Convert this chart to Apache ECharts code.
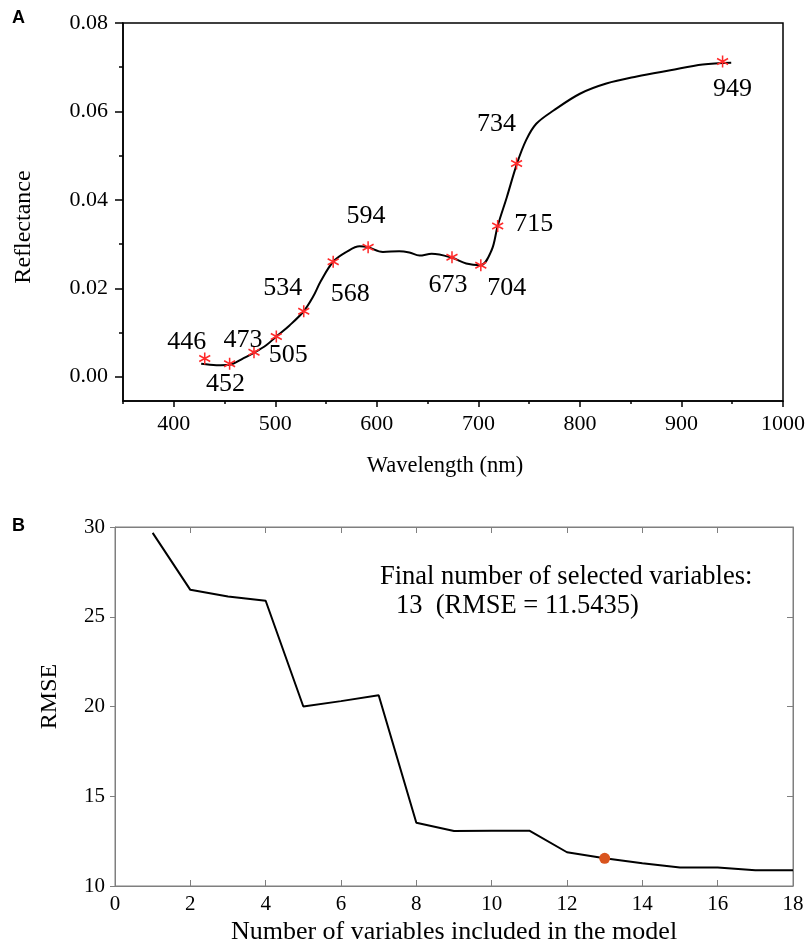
<!DOCTYPE html>
<html>
<head>
<meta charset="utf-8">
<title>Reflectance and RMSE</title>
<script src="https://cdn.jsdelivr.net/npm/echarts@6/dist/echarts.min.js"></script>
<style>
  html, body { margin: 0; padding: 0; background: #fff; }
  #chart { width: 810px; height: 946px; }
</style>
</head>
<body>
<div id="chart"></div>
<script>
// panel A: reflectance spectrum
const wavelength = [427, 442, 455, 468, 479, 491, 501, 514, 528, 537, 545, 557, 570, 583, 591, 606, 622, 632, 642, 654, 674, 688, 702, 713, 719, 728, 738, 747, 757, 774, 800, 826, 856, 889, 921, 949]
const reflectance = [0.0029, 0.0026, 0.0027, 0.0041, 0.0054, 0.0071, 0.0091, 0.0116, 0.0148, 0.0180, 0.0217, 0.0260, 0.0282, 0.0295, 0.0293, 0.0282, 0.0284, 0.0281, 0.0274, 0.0278, 0.0269, 0.0256, 0.0252, 0.0286, 0.0341, 0.0406, 0.0482, 0.0535, 0.0572, 0.0602, 0.0640, 0.0663, 0.0679, 0.0693, 0.0706, 0.0710]

// selected wavelengths (star markers)
const bandNames = ['446', '452', '473', '505', '534', '568', '594', '673', '704', '715', '734', '949']
const bandX = [430.5, 455, 479, 501, 528, 557, 591.4, 674, 702.4, 719, 737.6, 940.5]
const bandY = [0.0041, 0.0029, 0.0055, 0.0091, 0.0148, 0.0260, 0.0293, 0.0270, 0.0252, 0.0341, 0.0482, 0.0713]

const xTicksA = [400, 500, 600, 700, 800, 900, 1000]
const xMinorA = [350, 450, 550, 650, 750, 850, 950]
const yTicksA = [0, 0.02, 0.04, 0.06, 0.08]
const yMinorA = [0.01, 0.03, 0.05, 0.07]

// panel B: RMSE vs number of variables
const nVars = [1, 2, 3, 4, 5, 6, 7, 8, 9, 10, 11, 12, 13, 14, 15, 16, 17, 18]
const rmse = [29.67, 26.5, 26.13, 25.89, 20.0, 20.3, 20.63, 13.52, 13.06, 13.08, 13.08, 11.88, 11.55, 11.27, 11.03, 11.03, 10.88, 10.88]
const bestN = 13
const bestRmse = 11.5435

// label placement (px offset from star centre)
const labelOffsets = [[-18, -16], [-4, 20], [-11, -12], [12, 19], [-21, -23], [17, 32], [-2, -31], [-4, 28], [26, 23], [36, -2], [-20, -39], [10, 28]]

const serif = 'Liberation Serif'
const starPath = 'path://M0,-6L0,6M-5.2,-3L5.2,3M-5.2,3L5.2,-3'

const chart = echarts.init( document.getElementById( 'chart' ) )

const gridA = { left : 123, top : 23, width : 660, height : 378 }
const gridB = { left : 115, top : 527, width : 678, height : 361 }
const grayAxis = '#7f7f7f'

chart.setOption( {
  animation : false,
  backgroundColor : '#fff',
  grid : [
    { ...gridA, show : true, borderColor : '#000', borderWidth : 1.5 },
    { ...gridB, show : true, borderColor : grayAxis, borderWidth : 1 },
    { ...gridA }
  ],
  xAxis : [
    {
      gridIndex : 0, type : 'value', min : 350, max : 1000,
      name : 'Wavelength (nm)', nameLocation : 'middle', nameGap : 54,
      nameTextStyle : { fontFamily : serif, fontSize : 22.5, color : '#000', padding : [0, 16, 0, 0] },
      axisLine : { onZero : false, lineStyle : { color : '#000', width : 1.5 } },
      axisTick : { show : true, customValues : xTicksA, length : 6, lineStyle : { color : '#000', width : 1.5 } },
      axisLabel : { customValues : xTicksA, margin : 12, fontFamily : serif, fontSize : 22, color : '#000', formatter : v => String( v ) },
      splitLine : { show : false }
    },
    {
      gridIndex : 2, type : 'value', min : 350, max : 1000,
      axisLine : { show : false, onZero : false },
      axisTick : { show : true, customValues : xMinorA, length : 3, lineStyle : { color : '#000', width : 1.5 } },
      axisLabel : { show : false },
      splitLine : { show : false }
    },
    {
      gridIndex : 1, type : 'value', min : 0, max : 18, interval : 2,
      name : 'Number of variables included in the model', nameLocation : 'middle', nameGap : 33,
      nameTextStyle : { fontFamily : serif, fontSize : 26, color : '#000' },
      axisLine : { onZero : false, lineStyle : { color : grayAxis, width : 1 } },
      axisTick : { inside : true, length : 6, lineStyle : { color : grayAxis } },
      axisLabel : { margin : 8, fontFamily : serif, fontSize : 21, color : '#000' },
      splitLine : { show : false }
    },
    {
      gridIndex : 1, type : 'value', min : 0, max : 18, interval : 2, position : 'top',
      axisLine : { onZero : false, lineStyle : { color : grayAxis, width : 1 } },
      axisTick : { inside : true, length : 6, lineStyle : { color : grayAxis } },
      axisLabel : { show : false },
      splitLine : { show : false }
    }
  ],
  yAxis : [
    {
      gridIndex : 0, type : 'value', min : -0.0055, max : 0.08,
      name : 'Reflectance', nameLocation : 'middle', nameGap : 87,
      nameTextStyle : { fontFamily : serif, fontSize : 24, color : '#000', padding : [0, 30, 0, 0] },
      axisLine : { show : true, onZero : false, lineStyle : { color : '#000', width : 1.5 } },
      axisTick : { show : true, customValues : yTicksA, length : 8, lineStyle : { color : '#000', width : 1.5 } },
      axisLabel : { customValues : yTicksA, margin : 15, fontFamily : serif, fontSize : 22, color : '#000', formatter : v => v.toFixed( 2 ) },
      splitLine : { show : false }
    },
    {
      gridIndex : 2, type : 'value', min : -0.0055, max : 0.08,
      axisLine : { show : false, onZero : false },
      axisTick : { show : true, customValues : yMinorA, length : 4, lineStyle : { color : '#000', width : 1.5 } },
      axisLabel : { show : false },
      splitLine : { show : false }
    },
    {
      gridIndex : 1, type : 'value', min : 10, max : 30, interval : 5,
      name : 'RMSE', nameLocation : 'middle', nameGap : 53,
      nameTextStyle : { fontFamily : serif, fontSize : 24, color : '#000', padding : [0, 0, 0, 20] },
      axisLine : { show : true, onZero : false, lineStyle : { color : grayAxis, width : 1 } },
      axisTick : { show : true, length : 5, lineStyle : { color : grayAxis } },
      axisLabel : { margin : 10, fontFamily : serif, fontSize : 21, color : '#000' },
      splitLine : { show : false }
    },
    {
      gridIndex : 1, type : 'value', min : 10, max : 30, interval : 5, position : 'right',
      axisLine : { show : true, onZero : false, lineStyle : { color : grayAxis, width : 1 } },
      axisTick : { show : true, inside : true, length : 6, lineStyle : { color : grayAxis } },
      axisLabel : { show : false },
      splitLine : { show : false }
    }
  ],
  series : [
    {
      name : 'reflectance',
      type : 'line',
      xAxisIndex : 0, yAxisIndex : 0,
      data : wavelength.map( ( w, i ) => [w, reflectance[i]] ),
      smooth : 0.35,
      showSymbol : false,
      lineStyle : { color : '#000', width : 2 },
      z : 2
    },
    {
      name : 'bands',
      type : 'scatter',
      xAxisIndex : 0, yAxisIndex : 0,
      symbol : starPath,
      symbolSize : [11, 12],
      itemStyle : { color : 'transparent', borderColor : '#ff2a2a', borderWidth : 1.6, opacity : 1 },
      data : bandX.map( ( w, i ) => ( {
        value : [w, bandY[i]],
        name : bandNames[i],
        label : { offset : labelOffsets[i] }
      } ) ),
      label : {
        show : true,
        position : 'inside',
        formatter : p => p.name,
        fontFamily : serif,
        fontSize : 26,
        color : '#000',
        textBorderWidth : 0
      },
      z : 3
    },
    {
      name : 'rmse',
      type : 'line',
      xAxisIndex : 2, yAxisIndex : 2,
      data : nVars.map( ( n, i ) => [n, rmse[i]] ),
      showSymbol : false,
      lineStyle : { color : '#000', width : 2 },
      z : 2
    },
    {
      name : 'best',
      type : 'scatter',
      xAxisIndex : 2, yAxisIndex : 2,
      data : [[bestN, bestRmse]],
      symbol : 'circle',
      symbolSize : 11,
      itemStyle : { color : '#d9541e', opacity : 1 },
      z : 3
    }
  ],
  graphic : [
    { type : 'text', left : 12, top : 9, style : { text : 'A', font : 'bold 18px "Liberation Sans"', fill : '#000' } },
    { type : 'text', left : 12, top : 517, style : { text : 'B', font : 'bold 18px "Liberation Sans"', fill : '#000' } },
    { type : 'text', left : 380, top : 564, style : { text : 'Final number of selected variables:', font : '26.5px "Liberation Serif"', fill : '#000' } },
    { type : 'text', left : 396, top : 593, style : { text : '13  (RMSE = ' + bestRmse + ')', font : '26.5px "Liberation Serif"', fill : '#000' } }
  ]
} )
</script>
</body>
</html>
